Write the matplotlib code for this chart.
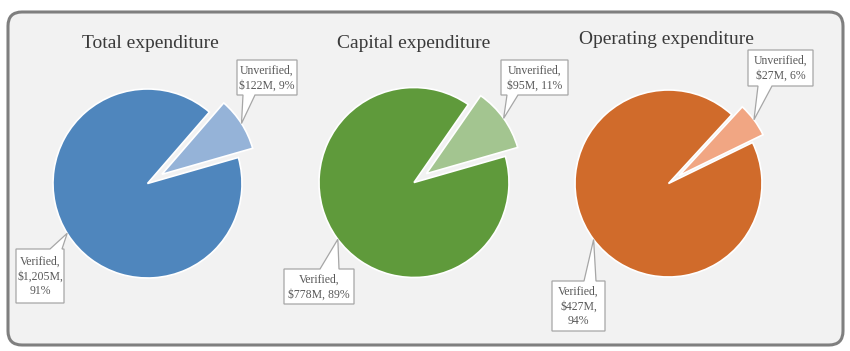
import numpy as np
import matplotlib
matplotlib.use("Agg")
import matplotlib.pyplot as plt
from matplotlib.patches import FancyBboxPatch, Polygon

# data
titles = ["Total expenditure", "Capital expenditure", "Operating expenditure"]
verified = [1205, 778, 427]
unverified = [122, 95, 27]
verified_pct = [91, 89, 94]
unverified_pct = [9, 11, 6]

# style / layout (pixel units, y measured from top)
W, H = 850, 351
main_colors = ["#4f86bd", "#5f9a3b", "#d06b2b"]
light_colors = ["#95b3d8", "#a3c590", "#f1a683"]
centers = [(147.5, 183.5), (414, 182.5), (668.5, 183.5)]
radii = [94.5, 95, 93.5]
start_angles = [16, 16, 26]
explode = [0.18, 0.16, 0.14]
title_pos = [(150, 43), (414, 43), (666, 40)]
verified_tip_angle = [211.8, 216.7, 216.8]
# boxes: x0, x1, y0, y1, pointer base b0, b1
unver_box = [(237, 297, 60, 95, 243, 255),
             (501, 568, 60, 95, 507, 518),
             (748, 813, 50, 86, 758, 772)]
ver_box = [(16, 64, 249, 303, 50, 62),
           (284, 354, 269, 304, 320, 339),
           (552, 605, 281, 331, 584, 596)]
ver_fmt = ["Verified,\n${:,}M,\n{}%", "Verified,\n${:,}M, {}%", "Verified,\n${:,}M,\n{}%"]

serif = ["Liberation Serif", "DejaVu Serif"]
text_col = "#595959"
edge_col = "#a6a6a6"

fig = plt.figure(figsize=(W / 100, H / 100), dpi=100)
fig.patch.set_facecolor("white")

# background panel
bg = fig.add_axes([0, 0, 1, 1], zorder=0)
bg.set_xlim(0, W)
bg.set_ylim(H, 0)
bg.axis("off")
bg.add_patch(FancyBboxPatch((8, 12), 835, 333,
                            boxstyle="round,pad=0,rounding_size=14",
                            fc="#f2f2f2", ec="#7f7f7f", lw=2.2))

# overlay for titles and callouts
ov = fig.add_axes([0, 0, 1, 1], zorder=5)
ov.set_xlim(0, W)
ov.set_ylim(H, 0)
ov.axis("off")
ov.patch.set_alpha(0)


def to_ov(ax, x, y):
    d = ax.transData.transform((x, y))
    return ov.transData.inverted().transform(d)


def callout(box, tip, text, bottom):
    x0, x1, y0, y1, b0, b1 = box
    if bottom:
        pts = [(x0, y0), (x1, y0), (x1, y1), (b1, y1), tip, (b0, y1), (x0, y1)]
    else:
        pts = [(x0, y0), (b0, y0), tip, (b1, y0), (x1, y0), (x1, y1), (x0, y1)]
    ov.add_patch(Polygon(pts, closed=True, fc="white", ec=edge_col, lw=0.9))
    ov.text((x0 + x1) / 2, (y0 + y1) / 2 + 0.5, text, ha="center", va="center",
            fontsize=8.5, color=text_col, family=serif, linespacing=1.3)


for i in range(3):
    cx, cy = centers[i]
    S = 2.4 * radii[i]
    ax = fig.add_axes([(cx - S / 2) / W, (H - cy - S / 2) / H, S / W, S / H], zorder=2)
    wedges, _ = ax.pie([unverified[i], verified[i]],
                       colors=[light_colors[i], main_colors[i]],
                       startangle=start_angles[i], counterclock=True,
                       explode=[explode[i], 0], radius=1,
                       wedgeprops=dict(edgecolor="white", linewidth=1.2))
    ax.set_xlim(-1.2, 1.2)
    ax.set_ylim(-1.2, 1.2)
    ax.axis("off")

    ov.text(title_pos[i][0], title_pos[i][1], titles[i], ha="center", va="center",
            fontsize=14, color="#3a3a3a", family=serif)

    # unverified callout tip at middle of exploded slice arc
    w = wedges[0]
    a = np.deg2rad((w.theta1 + w.theta2) / 2)
    tip = to_ov(ax, w.center[0] + w.r * np.cos(a), w.center[1] + w.r * np.sin(a))
    callout(unver_box[i], tuple(tip),
            "Unverified,\n${}M, {}%".format(unverified[i], unverified_pct[i]), True)

    w = wedges[1]
    a = np.deg2rad(verified_tip_angle[i])
    tip = to_ov(ax, w.center[0] + w.r * np.cos(a), w.center[1] + w.r * np.sin(a))
    callout(ver_box[i], tuple(tip),
            ver_fmt[i].format(verified[i], verified_pct[i]), False)

fig.savefig("out.png", dpi=100)
